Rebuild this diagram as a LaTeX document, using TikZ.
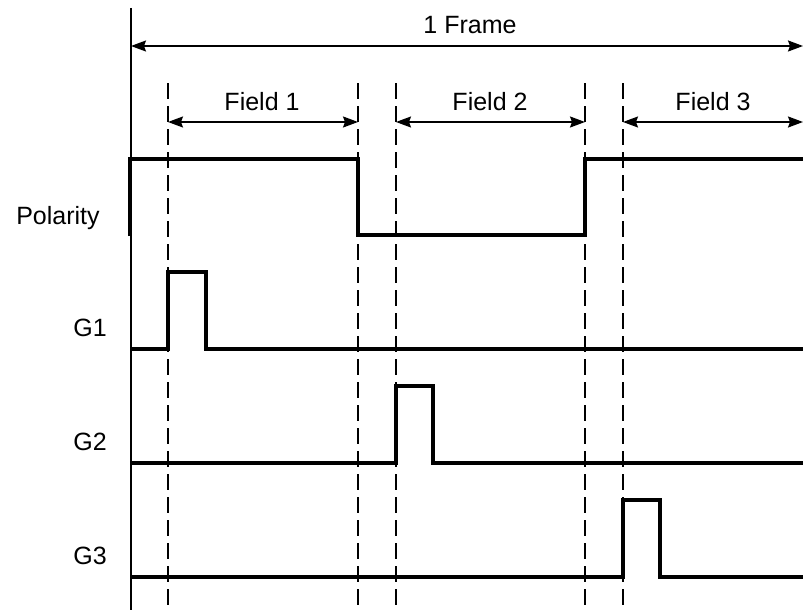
\documentclass[tikz,border=0pt]{standalone}
\usepackage{fontspec}
\setmainfont{Liberation Sans}
\usetikzlibrary{arrows.meta}
\begin{document}
\begin{tikzpicture}[x=1pt,y=-1pt,
  sig/.style={line width=3.2pt,line join=miter},
  thin/.style={line width=1.5pt},
  dim/.style={line width=1.6pt,{Stealth[length=15pt,width=11pt,inset=2pt]}-{Stealth[length=15pt,width=11pt,inset=2pt]}},
  guide/.style={line width=2.8pt,dash pattern=on 16pt off 7pt},
  lbl/.style={font=\fontsize{25}{30}\selectfont,inner sep=0pt}]
\useasboundingbox (0,0) rectangle (803,610);
% axis
\coordinate (axT) at (131,8);
\coordinate (axB) at (131,610);
\draw[thin] (axT) -- (axB);
% guides
\foreach \n/\x in {a/168,b/358,c/396,d/585,e/623}{
  \coordinate (\n T) at (\x,83);
  \coordinate (\n B) at (\x,610);
  \draw[guide] (\n T) -- (\n B);
}
% frame arrow
\coordinate (fr1) at (131,46);
\coordinate (fr2) at (803,46);
\draw[dim] (fr1) -- (fr2);
\node[lbl] (frame) at (470,25) {1 Frame};
% field arrows
\coordinate (f1a) at (168,122); \coordinate (f1b) at (358,122);
\coordinate (f2a) at (396,122); \coordinate (f2b) at (585,122);
\coordinate (f3a) at (623,122); \coordinate (f3b) at (803,122);
\draw[dim] (f1a) -- (f1b);
\draw[dim] (f2a) -- (f2b);
\draw[dim] (f3a) -- (f3b);
\node[lbl] (field1) at (262,102) {Field 1};
\node[lbl] (field2) at (490,102) {Field 2};
\node[lbl] (field3) at (713,102) {Field 3};
% polarity
\node[lbl] (pol) at (58,218) {Polarity};
\draw[sig] (130,236) -- (130,159) -- (358,159) -- (358,235) -- (585,235) -- (585,159) -- (803,159);
% G1
\node[lbl] (g1) at (90,328) {G1};
\draw[sig] (131,349) -- (168,349) -- (168,272) -- (206,272) -- (206,349) -- (803,349);
% G2
\node[lbl] (g2) at (90,442) {G2};
\draw[sig] (131,463) -- (396,463) -- (396,386) -- (433,386) -- (433,463) -- (803,463);
% G3
\node[lbl] (g3) at (90,556) {G3};
\draw[sig] (131,577) -- (623,577) -- (623,500) -- (660,500) -- (660,577) -- (803,577);
\end{tikzpicture}
\end{document}
